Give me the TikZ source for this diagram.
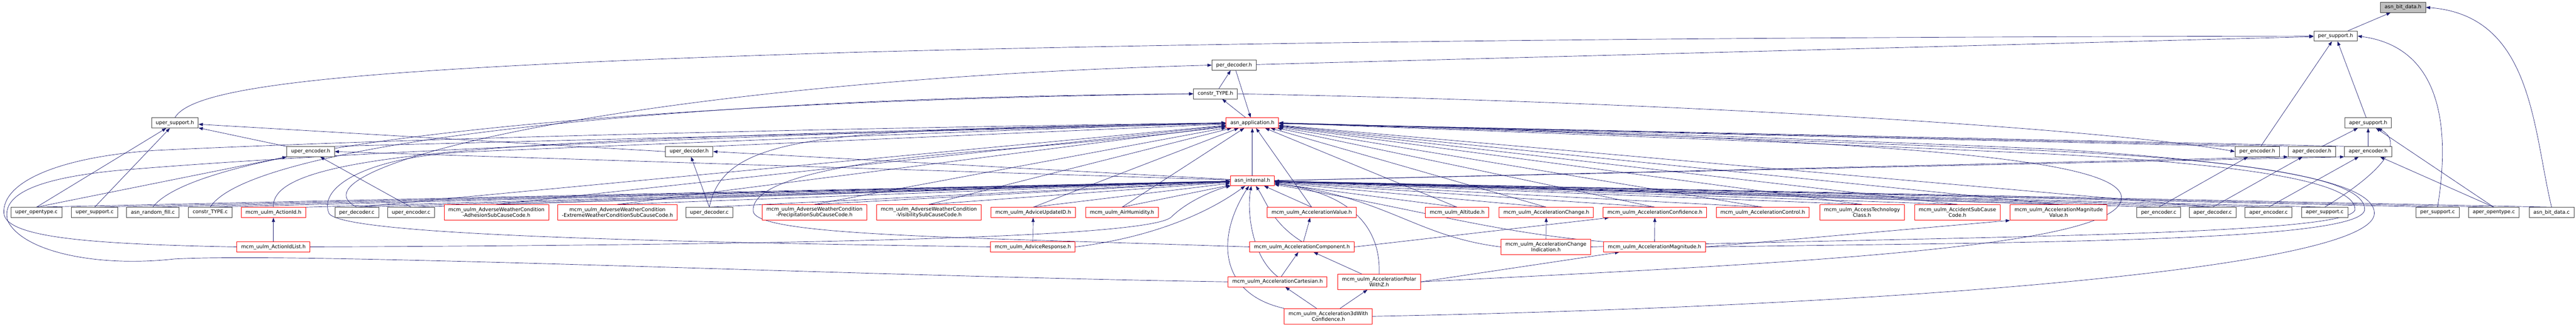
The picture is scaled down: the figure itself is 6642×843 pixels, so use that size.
\documentclass[tikz,border=0pt]{standalone}
\usepackage{fontspec}
\newfontfamily\dejavu{DejaVu Sans}
\usetikzlibrary{arrows.meta, backgrounds}
\definecolor{edgeblue}{HTML}{191970}
\definecolor{truncred}{HTML}{FF0000}

\begin{document}
\begin{tikzpicture}[x=1pt, y=-1pt,
  file/.style={rectangle, draw=black!75, fill=white, line width=1.2pt,
    font=\dejavu\fontsize{13}{14}\selectfont, inner xsep=11pt, inner ysep=0pt,
    minimum height=26pt},
  trunc/.style={file, draw=truncred},
  root/.style={file, fill=black!25},
  two/.style={align=center, minimum height=40pt},
  inc/.style={edgeblue, line width=0.9pt, -{Triangle[length=11pt, width=8pt]}}]

\useasboundingbox (0,0) rectangle (6642,843);

\node[root] (bitH) at (6196,19) {asn\_bit\_data.h};
\node[file] (perSupH) at (6022,93) {per\_support.h};
\node[file] (perDecH) at (3182,168) {per\_decoder.h};
\node[file] (constrH) at (3134,242) {constr\_TYPE.h};
\node[file] (uperSupH) at (451,317) {uper\_support.h};
\node[trunc] (appH) at (3229,317) {asn\_application.h};
\node[file] (aperSupH) at (6106,317) {aper\_support.h};
\node[file] (uperEncH) at (801,391) {uper\_encoder.h};
\node[file] (uperDecH) at (1777,391) {uper\_decoder.h};
\node[file] (perEncH) at (5820,391) {per\_encoder.h};
\node[file] (aperDecH) at (5961,391) {aper\_decoder.h};
\node[file] (aperEncH) at (6106,391) {aper\_encoder.h};
\node[trunc] (intH) at (3229,466) {asn\_internal.h};

\node[file] (uperOpenC) at (94,548) {uper\_opentype.c};
\node[file] (uperSupC) at (244,548) {uper\_support.c};
\node[file] (randFillC) at (394,548) {asn\_random\_fill.c};
\node[file] (constrC) at (542,548) {constr\_TYPE.c};
\node[trunc] (actionId) at (705,548) {mcm\_uulm\_ActionId.h};
\node[file] (perDecC) at (920,548) {per\_decoder.c};
\node[file] (uperEncC) at (1060,548) {uper\_encoder.c};
\node[trunc, two] (adhesion) at (1280,548) {mcm\_uulm\_AdverseWeatherCondition\\-AdhesionSubCauseCode.h};
\node[trunc, two] (extreme) at (1592,548) {mcm\_uulm\_AdverseWeatherCondition\\-ExtremeWeatherConditionSubCauseCode.h};
\node[file] (uperDecC) at (1829,548) {uper\_decoder.c};
\node[trunc, two] (precip) at (2100,548) {mcm\_uulm\_AdverseWeatherCondition\\-PrecipitationSubCauseCode.h};
\node[trunc, two] (visib) at (2395,548) {mcm\_uulm\_AdverseWeatherCondition\\-VisibilitySubCauseCode.h};
\node[trunc] (adviceUpd) at (2664,548) {mcm\_uulm\_AdviceUpdateID.h};
\node[trunc] (airHum) at (2893,548) {mcm\_uulm\_AirHumidity.h};
\node[trunc] (accValue) at (3382,548) {mcm\_uulm\_AccelerationValue.h};
\node[trunc] (altitude) at (3757,548) {mcm\_uulm\_Altitude.h};
\node[trunc] (accChange) at (3987,548) {mcm\_uulm\_AccelerationChange.h};
\node[trunc] (accConf) at (4267,548) {mcm\_uulm\_AccelerationConfidence.h};
\node[trunc] (accControl) at (4545,548) {mcm\_uulm\_AccelerationControl.h};
\node[trunc, two] (accessTech) at (4801,548) {mcm\_uulm\_AccessTechnology\\Class.h};
\node[trunc, two] (accident) at (5047,548) {mcm\_uulm\_AccidentSubCause\\Code.h};
\node[trunc, two] (accMagValue) at (5308,548) {mcm\_uulm\_AccelerationMagnitude\\Value.h};
\node[file] (perEncC) at (5566,548) {per\_encoder.c};
\node[file] (aperDecC) at (5705,548) {aper\_decoder.c};
\node[file] (aperEncC) at (5849,548) {aper\_encoder.c};
\node[file] (aperSupC) at (5994,548) {aper\_support.c};
\node[file] (perSupC) at (6285,548) {per\_support.c};
\node[file] (aperOpenC) at (6430,548) {aper\_opentype.c};
\node[file] (bitC) at (6579,548) {asn\_bit\_data.c};

\node[trunc] (actionIdList) at (705,637) {mcm\_uulm\_ActionIdList.h};
\node[trunc] (adviceResp) at (2663,637) {mcm\_uulm\_AdviceResponse.h};
\node[trunc] (accComp) at (3357,637) {mcm\_uulm\_AccelerationComponent.h};
\node[trunc, two] (accChangeInd) at (3986,637) {mcm\_uulm\_AccelerationChange\\Indication.h};
\node[trunc] (accMag) at (4266,637) {mcm\_uulm\_AccelerationMagnitude.h};
\node[trunc] (accCart) at (3294,727) {mcm\_uulm\_AccelerationCartesian.h};
\node[trunc, two] (accPolar) at (3556,727) {mcm\_uulm\_AccelerationPolar\\WithZ.h};
\node[trunc, two] (acc3d) at (3425,816) {mcm\_uulm\_Acceleration3dWith\\Confidence.h};

\begin{scope}[on background layer]
\path[inc]
  (perSupH) edge (bitH)
  (perDecH) edge (perSupH)
  (perDecH) edge (appH)
  (constrH) edge (perDecH)
  (appH) edge (constrH)
  (intH) edge (appH)
  (uperEncH) edge (uperSupH)
  (uperDecH.west) edge (uperSupH)
  (uperEncH.north east) edge (appH)
  (uperDecH.north east) edge (appH)
  (intH) edge (uperDecH.east)
  (intH) edge (uperEncH.east)
  (perEncH) edge (perSupH)
  (perEncH.north west) edge (appH)
  (aperDecH.north west) edge (appH)
  (aperEncH.north west) edge (appH)
  (aperDecH) edge (aperSupH)
  (aperEncH) edge (aperSupH)
  (aperSupH) edge (perSupH)
  (intH.east) edge (aperDecH.south west)
  (intH.east) edge (aperEncH.south west);

\draw[inc] (bitC.north) .. controls (6530,330) and (6530,40) .. (bitH.east);
\draw[inc] (uperSupH.north) .. controls (500,220) and (900,175) .. (2200,135)
  .. controls (3500,100) and (5000,95) .. (perSupH.west);
\draw[inc] (constrH.east) .. controls (4400,265) and (5450,335) .. (perEncH.west);
\draw[inc] (perSupC.north) .. controls (6310,380) and (6320,125) .. (perSupH.east);
\draw[inc] (aperSupC.north) .. controls (6180,420) and (6185,360) .. (aperSupH);

\path[inc]
  (uperOpenC.north) edge (uperSupH)
  (uperOpenC.north) edge (uperEncH.south west)
  (uperOpenC.north) edge (intH)
  (uperSupC.north) edge (uperSupH)
  (uperSupC.north) edge (intH)
  (randFillC.north) edge (intH)
  (constrC.north) edge (intH)
  (actionId.north east) edge (intH)
  (perDecC.north) edge (intH)
  (perDecC.north) edge (appH)
  (uperEncC.north) edge (uperEncH)
  (uperEncC.north) edge (intH)
  (uperDecC.north) edge (uperDecH)
  (uperDecC.north) edge (intH)
  (perEncC.north) edge (perEncH)
  (perEncC.north) edge (intH)
  (aperDecC.north) edge (aperDecH)
  (aperDecC.north) edge (intH)
  (aperDecC.north) edge (appH)
  (aperEncC.north) edge (aperEncH)
  (aperEncC.north) edge (intH)
  (aperSupC.north) edge (intH)
  (perSupC.north) edge (intH)
  (aperOpenC.north) edge (aperSupH)
  (aperOpenC.north) edge (aperEncH)
  (aperOpenC.north) edge (intH)
  (bitC.north) edge (intH);

\draw[inc] (randFillC.north) .. controls +(120,-160) and +(-1500,20) .. (constrH.west);
\draw[inc] (constrC.north) .. controls +(100,-160) and +(-1400,10) .. (constrH.west);
\draw[inc] (perDecC.north) .. controls +(-200,-100) and +(-1500,40) .. (perDecH.west);
\draw[inc] (uperDecC.north) .. controls +(40,-200) and +(-1000,20) .. (appH.west);
\draw[inc] (actionId.north) .. controls +(-10,-150) and +(-1800,40) .. (appH.west);

\foreach \n in {adhesion, extreme, precip, visib, adviceUpd, airHum, accValue,
  altitude, accChange, accConf, accControl, accessTech, accident, accMagValue}
  \path[inc] (\n.north) edge (appH) (\n.north) edge (intH);

\path[inc]
  (actionIdList) edge (actionId)
  (adviceResp) edge (adviceUpd)
  (accComp) edge (accValue)
  (accComp.east) edge (accConf)
  (accChangeInd) edge (accChange)
  (accMag) edge (accConf)
  (accMag.east) edge (accMagValue.south west)
  (accCart) edge (accComp)
  (accPolar) edge (accComp)
  (accPolar.east) edge (accMag)
  (acc3d) edge (accCart)
  (acc3d) edge (accPolar);

\draw[inc] (actionIdList.west) .. controls (250,630) and (15,615) .. (10,550)
  .. controls (5,470) and (150,405) .. (400,388)
  .. controls (1200,350) and (2500,325) .. (appH.west);
\draw[inc] (accCart.west) .. controls (2200,712) and (800,650) .. (450,668)
  .. controls (250,690) and (60,650) .. (20,570)
  .. controls (0,500) and (100,460) .. (300,440)
  .. controls (1000,380) and (2500,330) .. (appH.west);
\draw[inc] (adviceResp.west) .. controls (1800,625) and (880,610) .. (848,550)
  .. controls (820,480) and (950,405) .. (1200,392)
  .. controls (2200,350) and (2900,325) .. (appH.west);
\draw[inc] (accComp.west) .. controls (2500,612) and (1950,610) .. (1942,545)
  .. controls (1935,470) and (2150,420) .. (2500,392)
  .. controls (2900,360) and (3100,335) .. (appH);
\draw[inc] (actionIdList.east) .. controls (2000,632) and (2960,615) .. (3020,560)
  .. controls (3060,520) and (3130,490) .. (intH);
\draw[inc] (adviceResp.east) .. controls (2950,615) and (3100,560) .. (intH);
\draw[inc] (accCart.north) .. controls (3225,660) and (3215,540) .. (intH);
\draw[inc] (accComp.north) .. controls (3280,575) and (3265,520) .. (intH);
\draw[inc] (acc3d.north west) .. controls (3150,760) and (3130,620) .. (intH);
\draw[inc] (accPolar.north) .. controls (3560,600) and (3500,500) .. (intH);
\draw[inc] (accChangeInd.west) .. controls (3650,610) and (3580,510) .. (intH);
\draw[inc] (accMag.north west) .. controls (3850,600) and (3660,540) .. (intH);

\draw[inc] (accPolar.east) .. controls (4600,680) and (5470,640) .. (5470,510)
  .. controls (5470,420) and (5000,385) .. (4400,355)
  .. controls (3800,330) and (3500,322) .. (appH.east);
\draw[inc] (accChangeInd.east) .. controls (5000,610) and (6072,610) .. (6072,540)
  .. controls (6072,470) and (5800,425) .. (5300,398)
  .. controls (4500,360) and (3600,330) .. (appH.east);
\draw[inc] (accMag.east) .. controls (5200,625) and (6097,625) .. (6097,540)
  .. controls (6097,460) and (5800,415) .. (5300,390)
  .. controls (4500,355) and (3600,328) .. (appH.east);
\draw[inc] (acc3d.east) .. controls (4900,790) and (6122,690) .. (6122,550)
  .. controls (6122,470) and (5850,420) .. (5300,385)
  .. controls (4500,350) and (3600,325) .. (appH.east);
\end{scope}

\end{tikzpicture}
\end{document}
